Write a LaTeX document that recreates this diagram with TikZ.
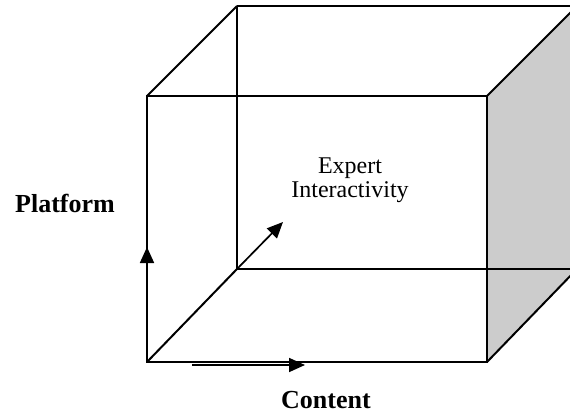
\documentclass[tikz,border=0pt]{standalone}
\usepackage{fontspec}
\setmainfont{Liberation Serif}
\usepackage{tikz}
\usetikzlibrary{arrows.meta,calc}

\begin{document}
\begin{tikzpicture}[x=1pt,y=-1pt,
	edge/.style={line width=2pt, line join=miter},
	axis/.style={line width=1.7pt, -{Triangle[length=16pt,width=14pt]}},
	label/.style={font=\fontsize{24}{24}\selectfont, inner sep=0pt},
	boldlabel/.style={font=\fontsize{26}{26}\selectfont\bfseries, inner sep=0pt, anchor=base}]
	
	\useasboundingbox (0,0) rectangle (570,414);
	\begin{scope}
	\clip (0,0) rectangle (570,414);
	
	% front face
	\coordinate (ftl) at (147,96);
	\coordinate (ftr) at (487,96);
	\coordinate (fbl) at (147,362);
	\coordinate (fbr) at (487,362);
	% back face
	\coordinate (btl) at (237,6);
	\coordinate (btr) at (577,6);
	\coordinate (bbl) at (237,269);
	\coordinate (bbr) at (577,269);
	
	\fill[black!20] (ftr) -- (btr) -- (bbr) -- (fbr) -- cycle;
	\draw[edge] (btl) -- (btr);
	\draw[edge] (btl) -- (bbl) -- (bbr);
	\draw[edge] (ftl) -- (btl);
	\draw[edge] (ftr) -- (btr);
	\draw[edge] (fbl) -- (bbl);
	\draw[edge] (fbr) -- (bbr);
	\draw[edge] (ftl) rectangle (fbr);
	\end{scope}
	
	% axes
	\coordinate (platformtip) at (147,247);
	\coordinate (contentfrom) at (192,365);
	\coordinate (contenttip) at (305,365);
	\coordinate (experttip) at (283,222);
	\draw[axis] (fbl) -- (platformtip);
	\draw[axis] (contentfrom) -- (contenttip);
	\draw[axis] (bbl) -- (experttip);
	
	\node[boldlabel] (platform) at (65,212) {Platform};
	\node[boldlabel] (content) at (326,408) {Content};
	\node[label, align=center] (expert) at (350,180) {Expert\\Interactivity};
	
\end{tikzpicture}
\end{document}
